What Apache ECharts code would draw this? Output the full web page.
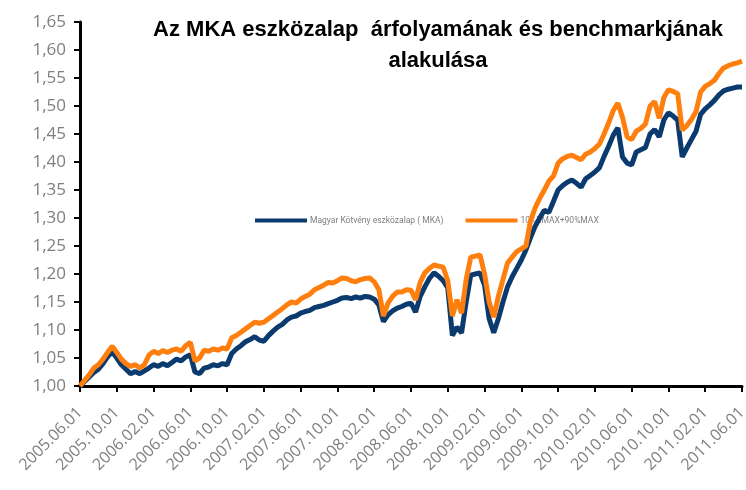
<!DOCTYPE html>
<html>
<head>
<meta charset="utf-8">
<script src="https://cdn.jsdelivr.net/npm/echarts@6/dist/echarts.min.js"></script>
<style>
  html, body { margin: 0; padding: 0; background: #ffffff; }
  #chart { width: 746px; height: 490px; }
</style>
</head>
<body>
<div id="chart"></div>
<script>
// félhavi pontok 2005.06.01 - 2011.06.01
var dates = [];
for (var y = 2005, m = 6; y < 2011 || (y === 2011 && m <= 6); m++) {
  if (m > 12) { m = 1; y++; }
  var mm = (m < 10 ? '0' : '') + m;
  dates.push(y + '.' + mm + '.01');
  if (y === 2011 && m === 6) break;
  dates.push(y + '.' + mm + '.15');
}

var seriesNames = ['Magyar Kötvény eszközalap ( MKA)', '10%ZMAX+90%MAX'];

var mka = [
  1.000,1.008,1.016,1.024,1.030,1.040,1.052,1.061,1.050,1.038,
  1.030,1.022,1.026,1.022,1.027,1.032,1.038,1.035,1.040,1.036,
  1.042,1.048,1.045,1.052,1.056,1.025,1.022,1.032,1.034,1.038,
  1.036,1.040,1.038,1.058,1.066,1.072,1.079,1.083,1.088,1.082,
  1.080,1.090,1.098,1.105,1.110,1.118,1.123,1.125,1.130,1.133,
  1.135,1.140,1.142,1.144,1.147,1.150,1.153,1.157,1.158,1.156,
  1.159,1.157,1.160,1.159,1.155,1.145,1.115,1.127,1.134,1.139,
  1.142,1.146,1.148,1.132,1.160,1.177,1.192,1.202,1.196,1.188,
  1.175,1.090,1.105,1.095,1.150,1.198,1.200,1.202,1.180,1.120,
  1.095,1.120,1.150,1.177,1.195,1.210,1.225,1.243,1.265,1.285,
  1.300,1.314,1.310,1.330,1.350,1.358,1.364,1.368,1.362,1.355,
  1.370,1.376,1.382,1.390,1.410,1.428,1.448,1.461,1.409,1.398,
  1.395,1.418,1.422,1.426,1.450,1.458,1.445,1.475,1.488,1.482,
  1.475,1.409,1.425,1.440,1.455,1.485,1.495,1.502,1.510,1.520,
  1.527,1.530,1.532,1.534,1.534
];

var benchmark = [
  1.000,1.010,1.020,1.032,1.038,1.048,1.060,1.071,1.060,1.048,
  1.040,1.035,1.038,1.032,1.038,1.055,1.062,1.058,1.063,1.060,
  1.064,1.066,1.062,1.072,1.078,1.045,1.050,1.064,1.062,1.066,
  1.064,1.068,1.066,1.086,1.090,1.096,1.102,1.108,1.114,1.112,
  1.114,1.120,1.126,1.132,1.138,1.145,1.150,1.148,1.155,1.160,
  1.164,1.172,1.176,1.180,1.185,1.184,1.188,1.193,1.192,1.188,
  1.186,1.190,1.192,1.193,1.186,1.172,1.125,1.148,1.160,1.168,
  1.168,1.172,1.171,1.154,1.185,1.202,1.210,1.216,1.214,1.212,
  1.188,1.125,1.154,1.130,1.190,1.230,1.232,1.234,1.200,1.150,
  1.123,1.160,1.190,1.220,1.230,1.240,1.245,1.250,1.295,1.318,
  1.335,1.350,1.366,1.375,1.398,1.406,1.410,1.412,1.408,1.404,
  1.414,1.418,1.424,1.432,1.450,1.470,1.492,1.505,1.480,1.445,
  1.440,1.455,1.460,1.468,1.500,1.508,1.478,1.515,1.529,1.526,
  1.522,1.457,1.465,1.476,1.490,1.525,1.535,1.540,1.546,1.558,
  1.568,1.572,1.575,1.577,1.580
];

var Chart = echarts.init(document.getElementById('chart'));
Chart.setOption({
  backgroundColor: '#ffffff',
  animation: false,
  title: {
    text: 'Az MKA eszközalap  árfolyamának és benchmarkjának\nalakulása',
    left: 433,
    top: 9,
    textAlign: 'center',
    textStyle: {
      fontFamily: 'Liberation Sans',
      fontWeight: 'bold',
      fontSize: 22,
      lineHeight: 31,
      color: '#000000'
    }
  },
  legend: {
    left: 250,
    top: 211,
    z: 0,
    itemWidth: 52,
    itemHeight: 4,
    itemGap: 22,
    icon: 'rect',
    textStyle: { fontFamily: 'Roboto', fontSize: 8.5, color: '#7f7f7f', padding: [0, 0, 0, -2] },
    data: seriesNames
  },
  grid: {
    left: 80,
    right: 4,
    top: 22,
    bottom: 104,
    outerBoundsMode: 'none'
  },
  xAxis: {
    type: 'category',
    data: dates,
    boundaryGap: false,
    axisLine: { lineStyle: { color: '#000000', width: 3 } },
    axisTick: { interval: 7, length: 6, lineStyle: { color: '#000000', width: 2 } },
    axisLabel: {
      interval: 7,
      rotate: 45,
      margin: 24,
      fontFamily: 'Open Sans',
      fontSize: 16,
      color: '#7f7f7f'
    },
    splitLine: { show: false }
  },
  yAxis: {
    type: 'value',
    min: 1,
    max: 1.65,
    interval: 0.05,
    axisLine: { show: true, lineStyle: { color: '#000000', width: 3 } },
    axisTick: { show: true, length: 6, lineStyle: { color: '#000000', width: 2 } },
    axisLabel: {
      margin: 14,
      fontFamily: 'Open Sans',
      fontSize: 17,
      color: '#7f7f7f',
      formatter: function (v) { return v.toFixed(2).replace('.', ','); }
    },
    splitLine: { show: false }
  },
  series: [
    {
      name: seriesNames[0],
      type: 'line',
      data: mka,
      symbol: 'none',
      z: 3,
      lineStyle: { color: '#0a3a6e', width: 5 },
      itemStyle: { color: '#0a3a6e' }
    },
    {
      name: seriesNames[1],
      type: 'line',
      data: benchmark,
      symbol: 'none',
      z: 4,
      lineStyle: { color: '#ff7f0e', width: 5 },
      itemStyle: { color: '#ff7f0e' }
    }
  ]
});
</script>
</body>
</html>
